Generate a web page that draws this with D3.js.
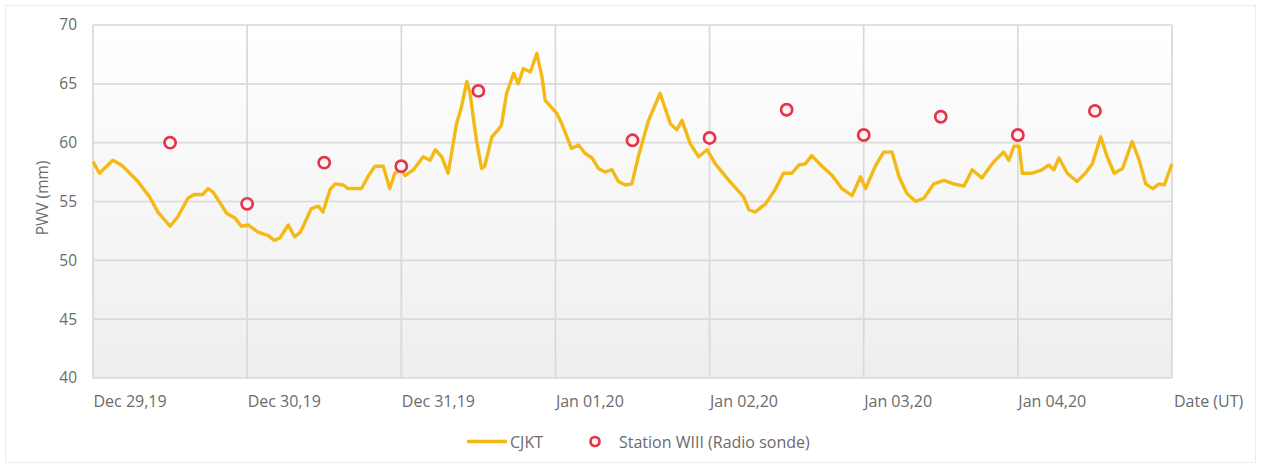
<!DOCTYPE html>
<html>
<head>
<meta charset="utf-8">
<script src="https://cdn.jsdelivr.net/npm/d3@7"></script>
<style>
  html, body { margin: 0; padding: 0; background: #fff; }
  svg { display: block; }
  text { font-family: "Open Sans", "Liberation Sans", sans-serif; fill: #6b6b6b; }
</style>
</head>
<body>
<svg id="chart" width="1261" height="468"></svg>
<script>
// ---- data (hours after Dec 29, 2019 00:00 UT) ----
const cjktHours = [0,1,3.1,4.4,5.2,7,8.8,10.1,12,13.2,
  14.8,15.8,17.1,17.9,18.7,20,20.8,22.1,23.1,24.2,
  25.7,27.3,28.2,29.1,30.4,31.4,32.3,34,35.1,35.8,
  36.9,37.7,39,39.7,41.8,42.9,43.9,45.2,46.2,47,
  48,48.6,49.9,51.4,52.5,53.3,54.3,55.3,56.6,57.4,
  58.2,58.7,59.7,60.5,61,62.1,63.1,63.6,64.4,65.5,
  66.2,67,68.1,69.1,69.9,70.4,71.2,72.2,73,74,
  74.5,75.6,76.6,77.7,78.7,79.7,80.8,81.8,82.9,83.9,
  84.9,86.5,88.3,89.9,90.9,91.7,93,94.3,95.6,96.9,
  99,101.3,102.1,103.1,104.7,106.2,107.5,108.8,109.9,110.9,
  111.9,113.5,115.1,116.6,118.2,119.5,120.3,121.8,123.1,124.4,
  125.5,126.7,128.1,129.4,130.9,132.5,134,135.6,136.9,138.4,
  140,140.5,141.8,142.6,143.4,144.2,144.7,146.2,147.8,148.8,
  149.6,150.4,151.7,153.2,154.5,155.6,156.9,157.9,159,160.3,
  161.8,162.9,163.9,165,166,166.8,168];
const cjktValues = [58.4,57.4,58.5,58.1,57.7,56.7,55.4,54.1,52.9,53.7,
  55.3,55.6,55.6,56.1,55.8,54.7,54.0,53.6,52.9,53.0,
  52.4,52.1,51.7,51.9,53.0,52.0,52.4,54.4,54.6,54.1,
  56.0,56.5,56.4,56.1,56.1,57.2,58.0,58.0,56.1,57.4,
  57.7,57.2,57.7,58.8,58.5,59.4,58.8,57.4,61.6,63.1,
  65.2,64.2,60.2,57.8,58.0,60.5,61.1,61.5,64.2,65.9,
  65.0,66.3,66.0,67.6,65.6,63.6,63.1,62.5,61.6,60.2,
  59.5,59.8,59.1,58.7,57.8,57.5,57.7,56.7,56.4,56.5,
  58.8,61.9,64.2,61.6,61.1,61.9,59.9,58.8,59.4,58.2,
  56.8,55.4,54.3,54.1,54.8,56.0,57.4,57.4,58.1,58.2,
  58.9,58.0,57.2,56.1,55.5,57.1,56.1,58.0,59.2,59.2,
  57.1,55.7,55.0,55.3,56.5,56.8,56.5,56.3,57.7,57.0,
  58.2,58.5,59.2,58.5,59.7,59.7,57.4,57.4,57.7,58.1,
  57.7,58.7,57.4,56.7,57.4,58.2,60.5,58.8,57.4,57.8,
  60.1,58.5,56.5,56.1,56.5,56.4,58.2];
const sondeHours  = [12,24,36,48,60,84,96,108,120,132,144,156];
const sondeValues = [60.0,54.8,58.3,58.0,64.4,60.2,60.4,62.8,60.65,62.2,60.65,62.7];
const yTicks = [40,45,50,55,60,65,70];
const xTickLabels = ["Dec 29,19","Dec 30,19","Dec 31,19","Jan 01,20","Jan 02,20","Jan 03,20","Jan 04,20"];
const seriesNames = ["CJKT","Station WIII (Radio sonde)"];

// ---- layout ----
const W = 1261, H = 468;
const m = {left: 93, right: 89, top: 25, bottom: 90};
const svg = d3.select("#chart");
const t0 = Date.UTC(2019, 11, 29);
const toDate = h => new Date(t0 + h * 3600e3);

const x = d3.scaleUtc().domain([toDate(0), toDate(168)]).range([m.left, W - m.right]);
const y = d3.scaleLinear().domain([40, 70]).range([H - m.bottom, m.top]);

// outer frame
svg.append("rect").attr("x", 5.5).attr("y", 5.5).attr("width", W - 11).attr("height", H - 11)
  .attr("fill", "#fff").attr("stroke", "#ececec").attr("stroke-width", 1);

// plot background gradient
const defs = svg.append("defs");
const grad = defs.append("linearGradient").attr("id", "bg").attr("x1", 0).attr("y1", 0).attr("x2", 0).attr("y2", 1);
grad.append("stop").attr("offset", "0%").attr("stop-color", "#ffffff");
grad.append("stop").attr("offset", "100%").attr("stop-color", "#eeeeee");
svg.append("rect").attr("x", x.range()[0]).attr("y", y.range()[1])
  .attr("width", x.range()[1] - x.range()[0]).attr("height", y.range()[0] - y.range()[1])
  .attr("fill", "url(#bg)");

// grid
const dayTicks = d3.range(0, 8).map(d => toDate(d * 24));
svg.append("g").selectAll("line.h").data(yTicks).join("line")
  .attr("x1", x.range()[0]).attr("x2", x.range()[1])
  .attr("y1", d => y(d)).attr("y2", d => y(d))
  .attr("stroke", "#d9d9d9").attr("stroke-width", 1.7);
svg.append("g").selectAll("line.v").data(dayTicks).join("line")
  .attr("x1", d => x(d)).attr("x2", d => x(d))
  .attr("y1", y.range()[0]).attr("y2", y.range()[1])
  .attr("stroke", "#d9d9d9").attr("stroke-width", 1.7);

// y axis labels
const yAxis = svg.append("g").attr("transform", `translate(${m.left},0)`)
  .call(d3.axisLeft(y).tickValues(yTicks).tickSize(0).tickPadding(16));
yAxis.select(".domain").remove();
yAxis.selectAll("text").style("font-size", "15.5px").attr("fill", "#6b6b6b");

// x axis labels (left aligned at day lines)
const xAxis = svg.append("g").attr("transform", `translate(0,${H - m.bottom})`)
  .call(d3.axisBottom(x).tickValues(dayTicks.slice(0, 7)).tickSize(0).tickPadding(0)
    .tickFormat((d, i) => xTickLabels[i]));
xAxis.select(".domain").remove();
xAxis.selectAll("text").style("font-size", "16px").attr("fill", "#6b6b6b")
  .attr("text-anchor", "start").attr("dy", 0).attr("y", 29).attr("x", 0);

svg.append("text").attr("x", x.range()[1] + 2).attr("y", H - m.bottom + 29)
  .style("font-size", "16px").text("Date (UT)");

svg.append("text").attr("transform", `translate(48,${y(55.3)}) rotate(-90)`)
  .attr("text-anchor", "middle").style("font-size", "15.5px").text("PWV (mm)");

// line
const line = d3.line().x(d => x(toDate(d[0]))).y(d => y(d[1]));
svg.append("path").datum(d3.zip(cjktHours, cjktValues))
  .attr("d", line).attr("fill", "none").attr("stroke", "#f4b915")
  .attr("stroke-width", 3.4).attr("stroke-linejoin", "round");

// sonde points
svg.append("g").selectAll("circle").data(d3.zip(sondeHours, sondeValues)).join("circle")
  .attr("cx", d => x(toDate(d[0]))).attr("cy", d => y(d[1])).attr("r", 5.6)
  .attr("fill", "#fff6f2").attr("stroke", "#e5344a").attr("stroke-width", 2.7);

// legend
const lg = svg.append("g");
lg.append("line").attr("x1", 467).attr("x2", 507).attr("y1", 441.5).attr("y2", 441.5)
  .attr("stroke", "#f4b915").attr("stroke-width", 3.5);
lg.append("text").attr("x", 510).attr("y", 447.5).style("font-size", "16px").text(seriesNames[0]);
lg.append("circle").attr("cx", 595).attr("cy", 441.5).attr("r", 4.5)
  .attr("fill", "#fff6f2").attr("stroke", "#e5344a").attr("stroke-width", 2.7);
lg.append("text").attr("x", 619).attr("y", 447.5).style("font-size", "16px").text(seriesNames[1]);
</script>
</body>
</html>
